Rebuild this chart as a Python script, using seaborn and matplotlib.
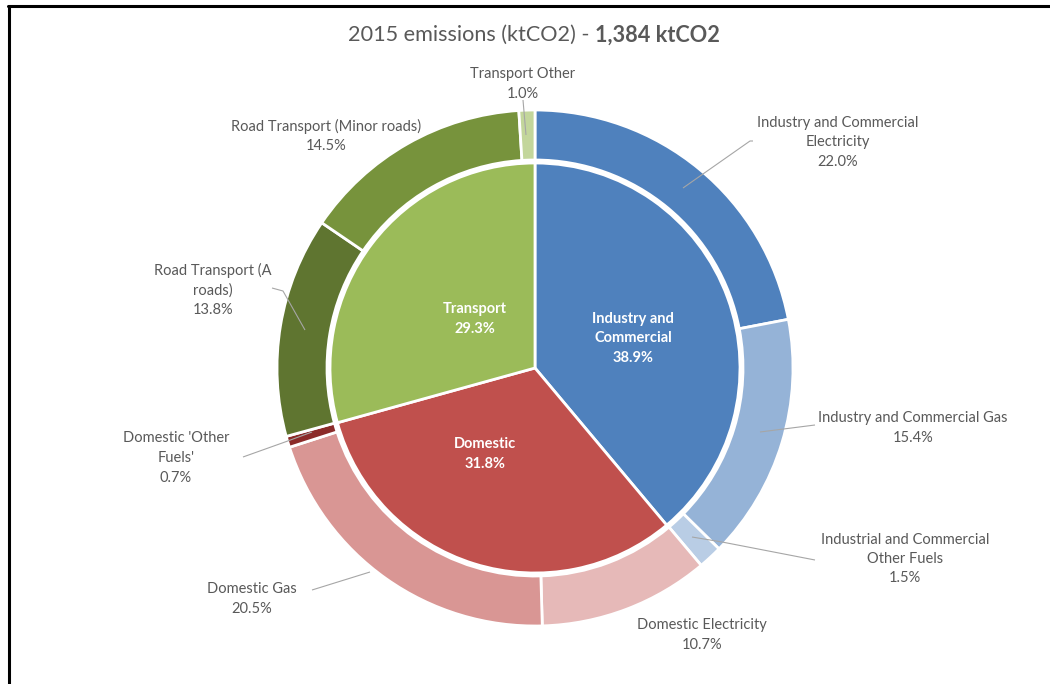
import matplotlib
matplotlib.use("Agg")
import matplotlib.pyplot as plt
from matplotlib.lines import Line2D
import seaborn as sns

# ---- data ----
sectors = ["Industry and\nCommercial", "Domestic", "Transport"]
sector_share = [38.9, 31.8, 29.3]
sector_colors = ["#4F81BD", "#C0504D", "#9BBB59"]

subsectors = [
    "Industry and Commercial\nElectricity",
    "Industry and Commercial Gas",
    "Industrial and Commercial\nOther Fuels",
    "Domestic Electricity",
    "Domestic Gas",
    "Domestic 'Other\nFuels'",
    "Road Transport (A\nroads)",
    "Road Transport (Minor roads)",
    "Transport Other",
]
subsector_share = [22.0, 15.4, 1.5, 10.7, 20.5, 0.7, 13.8, 14.5, 1.0]
subsector_colors = ["#4F81BD", "#95B3D7", "#B9CDE5",
                    "#E6B9B8", "#D99694", "#8B2B29",
                    "#5F7530", "#77933C", "#C3D69B"]

title_plain = "2015 emissions (ktCO2) - "
title_bold = "1,384 ktCO2"

# ---- layout (pixel coordinates, y measured from top) ----
W, H = 1050, 684
cx, cy = 535, 368
r_outer, ring_w, r_inner = 258, 50, 205

outer_label_pos = [(838, 142), (913, 428), (905, 559), (702, 635), (252, 599),
                   (176, 458), (213, 290), (326, 136), (523, 84)]
leaders = {
    0: [(753, 141), (750, 141), (683, 188)],
    1: [(815, 425), (760, 432)],
    2: [(815, 560), (722, 542), (692, 537)],
    4: [(312, 590), (370, 572)],
    5: [(243, 457), (285, 442), (312, 432)],
    6: [(272, 288), (283, 291), (305, 330)],
    8: [(523, 100), (526, 135)],
}
inner_label_pos = [(633, 338), (485, 454), (475, 319)]

sns.set_theme(style="white")
plt.rcParams["font.family"] = ["Lato", "DejaVu Sans"]

fig = plt.figure(figsize=(W / 100, H / 100), dpi=100)
ax = fig.add_axes([0, 0, 1, 1])
ax.set_xlim(0, W)
ax.set_ylim(0, H)
ax.set_aspect("equal")
ax.axis("off")

def P(x, y):
    return x, H - y

ax.pie(subsector_share, colors=subsector_colors, radius=r_outer, center=P(cx, cy),
       startangle=90, counterclock=False, normalize=True,
       wedgeprops=dict(width=ring_w, edgecolor="white", linewidth=2))
ax.pie(sector_share, colors=sector_colors, radius=r_inner, center=P(cx, cy),
       startangle=90, counterclock=False, normalize=True,
       wedgeprops=dict(edgecolor="white", linewidth=2))
ax.set_xlim(0, W)
ax.set_ylim(0, H)

txt_col = "#595959"
for i, (name, val) in enumerate(zip(subsectors, subsector_share)):
    x, y = outer_label_pos[i]
    ax.text(*P(x, y), f"{name}\n{val:.1f}%", ha="center", va="center",
            fontsize=10.5, color=txt_col, linespacing=1.5)
for i, pts in leaders.items():
    xs = [p[0] for p in pts]
    ys = [H - p[1] for p in pts]
    ax.plot(xs, ys, color="#A6A6A6", lw=0.8, solid_capstyle="butt")

for i, (name, val) in enumerate(zip(sectors, sector_share)):
    x, y = inner_label_pos[i]
    ax.text(*P(x, y), f"{name}\n{val:.1f}%", ha="center", va="center",
            fontsize=10.5, color="white", fontweight="bold", linespacing=1.5)

# title: plain + bold parts, centered together
renderer = fig.canvas.get_renderer()
t1 = fig.text(0, 0, title_plain, fontsize=15.6, color=txt_col)
t2 = fig.text(0, 0, title_bold, fontsize=15.6, color=txt_col, fontweight="bold")
w1 = t1.get_window_extent(renderer).width
w2 = t2.get_window_extent(renderer).width
x0 = 534 - (w1 + w2) / 2
ty = 1 - 35 / H
t1.set_position((x0 / W, ty)); t1.set_va("center")
t2.set_position(((x0 + w1) / W, ty)); t2.set_va("center")

# frame lines (left and top)
fig.add_artist(Line2D([8.5 / W, 8.5 / W], [0, 1 - 5.5 / H], transform=fig.transFigure,
                      color="black", lw=2.2))
fig.add_artist(Line2D([7.5 / W, 1], [1 - 5.5 / H, 1 - 5.5 / H], transform=fig.transFigure,
                      color="black", lw=2.2))

fig.savefig("out.png", dpi=100, facecolor="white")
